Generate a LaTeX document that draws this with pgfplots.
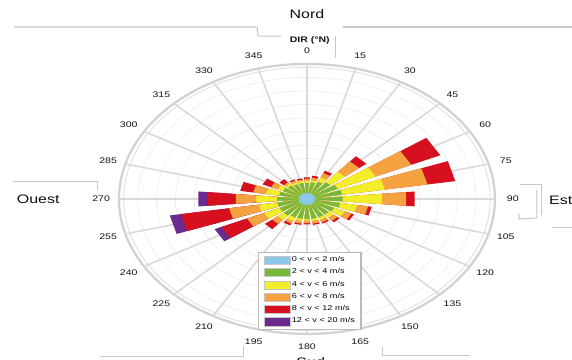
\documentclass[border=0pt]{standalone}
\usepackage{fontspec}
\setmainfont{Liberation Sans}
\usepackage{graphicx}
\usepackage{pgfplots}
\pgfplotsset{compat=1.18}
\definecolor{cblue}{HTML}{8CC8E8}
\definecolor{cgreen}{HTML}{78B83A}
\definecolor{cyellow}{HTML}{F2EE2A}
\definecolor{corange}{HTML}{F4A340}
\definecolor{cred}{HTML}{D6101E}
\definecolor{cpurple}{HTML}{6B2A8E}
\definecolor{artline}{HTML}{C8C8C8}
\newcommand{\sx}[1]{\scalebox{1.3}[1]{#1}}
\begin{document}
\begin{tikzpicture}
\begin{axis}[
  scale only axis, width=11.44cm, height=7.2cm,
  xmin=-16.33, xmax=14.10, ymin=-11.93, ymax=14.74,
  hide axis, clip=false,
  legend style={at={(axis description cs:0.451,0.30)}, anchor=north west,
    draw=gray!55, line width=0.8pt, fill=white,
    font=\fontsize{4}{4.5}\selectfont, inner xsep=3pt, inner ysep=1.5pt,
    nodes={inner sep=0.6pt}, row sep=1.4pt, cells={anchor=west}},
  legend image code/.code={\filldraw[#1, draw=gray!45, line width=0.3pt] (0pt,-2.3pt) rectangle (15pt,2.3pt);},
]
% grid rings
\pgfplotsinvokeforeach{1,2,3,4,5,6,7,8,9}{\draw[gray!13, line width=0.4pt] (axis cs:0,0) ellipse [x radius=#1, y radius=#1];}
\draw[gray!35, line width=1.3pt] (axis cs:0,0) ellipse [x radius=10, y radius=10];
\draw[gray!25, line width=0.5pt] (axis cs:0,0) ellipse [x radius=9.75, y radius=9.75];
% spokes and direction labels
\pgfplotsinvokeforeach{0,15,30,45,60,75,90,105,120,135,150,165,180,195,210,225,240,255,270,285,300,315,330,345}{
  \draw[gray!30, line width=0.9pt] (axis cs:0,0) -- (axis cs:{10*cos(90-#1)},{10*sin(90-#1)});
  \node[font=\fontsize{4.6}{5}\selectfont, text=gray!15!black] at (axis cs:{10.95*cos(90-#1)},{10.95*sin(90-#1)}) {\sx{#1}};
}
% legend
\addlegendimage{fill=cblue}\addlegendentry{\sx{0 < v < 2 m/s}}
\addlegendimage{fill=cgreen}\addlegendentry{\sx{2 < v < 4 m/s}}
\addlegendimage{fill=cyellow}\addlegendentry{\sx{4 < v < 6 m/s}}
\addlegendimage{fill=corange}\addlegendentry{\sx{6 < v < 8 m/s}}
\addlegendimage{fill=cred}\addlegendentry{\sx{8 < v < 12 m/s}}
\addlegendimage{fill=cpurple}\addlegendentry{\sx{12 < v < 20 m/s}}
% purple (cumulative radius)
\addplot[fill=cpurple, draw=none, forget plot, data cs=polar] coordinates {(0,0) (-155.5,5.4) (-144.5,5.4) (0,0) (-170.5,7.4) (-159.5,7.4) (0,0) (-185.5,5.8) (-174.5,5.8) (0,0)};
% red
\addplot[fill=cred, draw=none, forget plot, data cs=polar] coordinates {(0,0) (84.5,1.6) (95.5,1.6) (0,0) (69.5,1.75) (80.5,1.75) (0,0) (54.5,2.3) (65.5,2.3) (0,0) (39.5,4.1) (50.5,4.1) (0,0) (24.5,7.8) (35.5,7.8) (0,0) (9.5,8.0) (20.5,8.0) (0,0) (-5.5,5.75) (5.5,5.75) (0,0) (-20.5,3.5) (-9.5,3.5) (0,0) (-35.5,2.75) (-24.5,2.75) (0,0) (-50.5,2.25) (-39.5,2.25) (0,0) (-65.5,2.0) (-54.5,2.0) (0,0) (-80.5,1.95) (-69.5,1.95) (0,0) (-95.5,1.9) (-84.5,1.9) (0,0) (-110.5,1.95) (-99.5,1.95) (0,0) (-125.5,2.15) (-114.5,2.15) (0,0) (-140.5,2.9) (-129.5,2.9) (0,0) (-155.5,5.0) (-144.5,5.0) (0,0) (-170.5,6.8) (-159.5,6.8) (0,0) (-185.5,5.3) (-174.5,5.3) (0,0) (-200.5,3.6) (-189.5,3.6) (0,0) (-215.5,2.6) (-204.5,2.6) (0,0) (-230.5,1.9) (-219.5,1.9) (0,0) (-245.5,1.6) (-234.5,1.6) (0,0) (-260.5,1.55) (-249.5,1.55) (0,0)};
% orange
\addplot[fill=corange, draw=none, forget plot, data cs=polar] coordinates {(0,0) (84.5,1.5) (95.5,1.5) (0,0) (69.5,1.6) (80.5,1.6) (0,0) (54.5,2.1) (65.5,2.1) (0,0) (39.5,3.6) (50.5,3.6) (0,0) (24.5,6.1) (35.5,6.1) (0,0) (9.5,6.5) (20.5,6.5) (0,0) (-5.5,5.3) (5.5,5.3) (0,0) (-20.5,3.3) (-9.5,3.3) (0,0) (-35.5,2.6) (-24.5,2.6) (0,0) (-50.5,2.1) (-39.5,2.1) (0,0) (-65.5,1.9) (-54.5,1.9) (0,0) (-80.5,1.85) (-69.5,1.85) (0,0) (-95.5,1.8) (-84.5,1.8) (0,0) (-110.5,1.85) (-99.5,1.85) (0,0) (-125.5,2.0) (-114.5,2.0) (0,0) (-140.5,2.4) (-129.5,2.4) (0,0) (-155.5,3.5) (-144.5,3.5) (0,0) (-170.5,4.2) (-159.5,4.2) (0,0) (-185.5,3.8) (-174.5,3.8) (0,0) (-200.5,2.9) (-189.5,2.9) (0,0) (-215.5,2.1) (-204.5,2.1) (0,0) (-230.5,1.6) (-219.5,1.6) (0,0) (-245.5,1.5) (-234.5,1.5) (0,0) (-260.5,1.45) (-249.5,1.45) (0,0)};
% yellow
\addplot[fill=cyellow, draw=none, forget plot, data cs=polar] coordinates {(0,0) (84.5,1.35) (95.5,1.35) (0,0) (69.5,1.4) (80.5,1.4) (0,0) (54.5,1.75) (65.5,1.75) (0,0) (39.5,2.6) (50.5,2.6) (0,0) (24.5,4.0) (35.5,4.0) (0,0) (9.5,4.2) (20.5,4.2) (0,0) (-5.5,4.0) (5.5,4.0) (0,0) (-20.5,2.7) (-9.5,2.7) (0,0) (-35.5,2.2) (-24.5,2.2) (0,0) (-50.5,1.8) (-39.5,1.8) (0,0) (-65.5,1.7) (-54.5,1.7) (0,0) (-80.5,1.65) (-69.5,1.65) (0,0) (-95.5,1.6) (-84.5,1.6) (0,0) (-110.5,1.65) (-99.5,1.65) (0,0) (-125.5,1.8) (-114.5,1.8) (0,0) (-140.5,2.0) (-129.5,2.0) (0,0) (-155.5,2.5) (-144.5,2.5) (0,0) (-170.5,2.6) (-159.5,2.6) (0,0) (-185.5,2.7) (-174.5,2.7) (0,0) (-200.5,2.2) (-189.5,2.2) (0,0) (-215.5,1.7) (-204.5,1.7) (0,0) (-230.5,1.45) (-219.5,1.45) (0,0) (-245.5,1.35) (-234.5,1.35) (0,0) (-260.5,1.35) (-249.5,1.35) (0,0)};
% green
\addplot[fill=cgreen, draw=none, forget plot, data cs=polar] coordinates {(0,0) (84.5,1.2) (95.5,1.2) (0,0) (69.5,1.25) (80.5,1.25) (0,0) (54.5,1.4) (65.5,1.4) (0,0) (39.5,1.6) (50.5,1.6) (0,0) (24.5,1.8) (35.5,1.8) (0,0) (9.5,1.9) (20.5,1.9) (0,0) (-5.5,1.9) (5.5,1.9) (0,0) (-20.5,1.8) (-9.5,1.8) (0,0) (-35.5,1.6) (-24.5,1.6) (0,0) (-50.5,1.5) (-39.5,1.5) (0,0) (-65.5,1.5) (-54.5,1.5) (0,0) (-80.5,1.5) (-69.5,1.5) (0,0) (-95.5,1.5) (-84.5,1.5) (0,0) (-110.5,1.5) (-99.5,1.5) (0,0) (-125.5,1.5) (-114.5,1.5) (0,0) (-140.5,1.6) (-129.5,1.6) (0,0) (-155.5,1.6) (-144.5,1.6) (0,0) (-170.5,1.6) (-159.5,1.6) (0,0) (-185.5,1.6) (-174.5,1.6) (0,0) (-200.5,1.5) (-189.5,1.5) (0,0) (-215.5,1.4) (-204.5,1.4) (0,0) (-230.5,1.3) (-219.5,1.3) (0,0) (-245.5,1.2) (-234.5,1.2) (0,0) (-260.5,1.2) (-249.5,1.2) (0,0)};
% blue
\addplot[fill=cblue, draw=none, forget plot, data cs=polar] coordinates {(0,0) (84.5,0.45) (95.5,0.45) (0,0) (69.5,0.45) (80.5,0.45) (0,0) (54.5,0.45) (65.5,0.45) (0,0) (39.5,0.45) (50.5,0.45) (0,0) (24.5,0.45) (35.5,0.45) (0,0) (9.5,0.45) (20.5,0.45) (0,0) (-5.5,0.45) (5.5,0.45) (0,0) (-20.5,0.45) (-9.5,0.45) (0,0) (-35.5,0.45) (-24.5,0.45) (0,0) (-50.5,0.45) (-39.5,0.45) (0,0) (-65.5,0.45) (-54.5,0.45) (0,0) (-80.5,0.45) (-69.5,0.45) (0,0) (-95.5,0.45) (-84.5,0.45) (0,0) (-110.5,0.45) (-99.5,0.45) (0,0) (-125.5,0.45) (-114.5,0.45) (0,0) (-140.5,0.45) (-129.5,0.45) (0,0) (-155.5,0.45) (-144.5,0.45) (0,0) (-170.5,0.45) (-159.5,0.45) (0,0) (-185.5,0.45) (-174.5,0.45) (0,0) (-200.5,0.45) (-189.5,0.45) (0,0) (-215.5,0.45) (-204.5,0.45) (0,0) (-230.5,0.45) (-219.5,0.45) (0,0) (-245.5,0.45) (-234.5,0.45) (0,0) (-260.5,0.45) (-249.5,0.45) (0,0)};
% titles
\node[font=\fontsize{4.6}{5}\selectfont\bfseries, text=gray!15!black] at (axis cs:0.15,11.75) {\sx{DIR (°N)}};
\node[font=\fontsize{7}{8}\selectfont, text=gray!10!black] at (axis cs:0,13.7) {\sx{Nord}};
\node[font=\fontsize{7}{8}\selectfont, text=gray!10!black] at (axis cs:-14.3,0) {\sx{Ouest}};
\node[font=\fontsize{7}{8}\selectfont, text=gray!10!black] at (axis cs:13.5,-0.1) {\sx{Est}};
\node[font=\fontsize{7}{8}\selectfont, text=gray!10!black] at (axis cs:0.2,-12.1) {\sx{Sud}};
% frame lines of the source figure
\draw[artline, line width=0.6pt] (axis cs:-15.59,12.74) -- (axis cs:-2.66,12.74) -- (axis cs:-2.60,12.07) -- (axis cs:-1.38,12.07);
\draw[artline, line width=0.6pt] (axis cs:1.91,12.74) -- (axis cs:14.1,12.74);
\draw[artline, line width=0.6pt] (axis cs:1.54,12.07) -- (axis cs:1.54,10.44);
\draw[artline, line width=0.6pt] (axis cs:-15.64,1.26) -- (axis cs:-11.12,1.26) -- (axis cs:-11.12,0.67);
\draw[artline, line width=0.6pt] (axis cs:11.33,1.04) -- (axis cs:12.50,1.04) -- (axis cs:12.50,-1.19);
\draw[artline, line width=0.6pt] (axis cs:12.23,0.67) -- (axis cs:12.23,-1.41) -- (axis cs:11.28,-1.48) -- (axis cs:11.28,-1.11);
\draw[artline, line width=0.6pt] (axis cs:13.03,-2.15) -- (axis cs:14.1,-2.15);
\draw[artline, line width=0.6pt] (axis cs:-11.0,-11.70) -- (axis cs:-3.40,-11.70) -- (axis cs:-3.40,-10.89);
\draw[artline, line width=0.6pt] (axis cs:4.0,-10.96) -- (axis cs:4.0,-11.63) -- (axis cs:8.67,-11.63);
\end{axis}
\pgfresetboundingbox
\path[use as bounding box] (current axis.south west) rectangle (current axis.north east);
\end{tikzpicture}
\end{document}
